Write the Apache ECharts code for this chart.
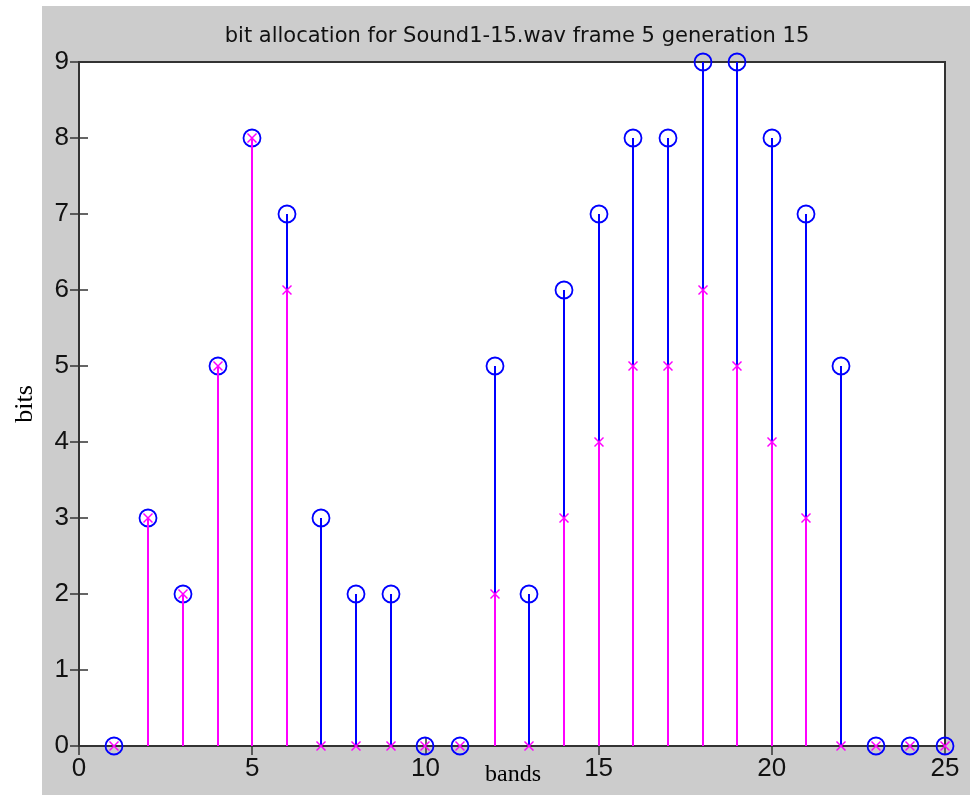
<!DOCTYPE html>
<html>
<head>
<meta charset="utf-8">
<script src="https://cdn.jsdelivr.net/npm/echarts@6/dist/echarts.min.js"></script>
<style>
  html, body { margin: 0; padding: 0; background: #fff; }
  #chart { width: 970px; height: 795px; }
</style>
</head>
<body>
<div id="chart"></div>
<script>
// Bit allocation per band: full allocation (blue, circles) and
// allocation after this generation (magenta, crosses).
const bands = [1, 2, 3, 4, 5, 6, 7, 8, 9, 10, 11, 12, 13, 14, 15, 16, 17, 18, 19, 20, 21, 22, 23, 24, 25];
const bitsFull = [0, 3, 2, 5, 8, 7, 3, 2, 2, 0, 0, 5, 2, 6, 7, 8, 8, 9, 9, 8, 7, 5, 0, 0, 0];
const bitsGen  = [0, 3, 2, 5, 8, 6, 0, 0, 0, 0, 0, 2, 0, 3, 4, 5, 5, 6, 5, 4, 3, 0, 0, 0, 0];
const xTicks = [0, 5, 10, 15, 20, 25];
const yTicks = [0, 1, 2, 3, 4, 5, 6, 7, 8, 9];

const titleText = 'bit allocation for Sound1-15.wav frame 5 generation 15';
const BLUE = '#0000ff';
const MAGENTA = '#ff00ff';

const chart = echarts.init(document.getElementById('chart'), null, { renderer: 'canvas' });

// Stems are snapped to whole pixels so overlapping stems cover each other cleanly.
function stemWithCircle(params, api) {
  const x = api.value(0), y = api.value(1);
  const base = api.coord([x, 0]);
  const top = api.coord([x, y]);
  const px = Math.round(top[0]);
  return {
    type: 'group',
    children: [
      { type: 'line', shape: { x1: px, y1: base[1], x2: px, y2: top[1] },
        style: { stroke: BLUE, lineWidth: 2 } },
      { type: 'circle', shape: { cx: px, cy: top[1], r: 8.5 },
        style: { fill: null, stroke: BLUE, lineWidth: 1.8 } }
    ]
  };
}

function stemWithCross(params, api) {
  const x = api.value(0), y = api.value(1);
  const base = api.coord([x, 0]);
  const top = api.coord([x, y]);
  const px = Math.round(top[0]);
  const h = 4.5;
  return {
    type: 'group',
    children: [
      { type: 'line', shape: { x1: px, y1: base[1], x2: px, y2: top[1] },
        style: { stroke: MAGENTA, lineWidth: 2 } },
      { type: 'line', shape: { x1: px - h, y1: top[1] - h, x2: px + h, y2: top[1] + h },
        style: { stroke: MAGENTA, lineWidth: 1.5 } },
      { type: 'line', shape: { x1: px - h, y1: top[1] + h, x2: px + h, y2: top[1] - h },
        style: { stroke: MAGENTA, lineWidth: 1.5 } }
    ]
  };
}

const tickFont = { color: '#111', fontSize: 26, fontFamily: '"Liberation Sans", Arial, sans-serif' };
const tickLine = { show: true, inside: true, length: 9, lineStyle: { color: '#333', width: 1.5 } };

chart.setOption({
  backgroundColor: '#ffffff',
  animation: false,
  graphic: [
    { type: 'rect', z: -10, silent: true,
      shape: { x: 42, y: 6, width: 928, height: 789 },
      style: { fill: '#cccccc' } },
    { type: 'text', silent: true, z: 10,
      x: 513, y: 775,
      style: { text: 'bands', fill: '#000', font: '24px "Liberation Serif", serif',
               textAlign: 'center', textVerticalAlign: 'middle' } },
    { type: 'text', silent: true, z: 10,
      x: 25, y: 404, rotation: Math.PI / 2,
      style: { text: 'bits', fill: '#000', font: '26px "Liberation Serif", serif',
               textAlign: 'center', textVerticalAlign: 'middle' } }
  ],
  title: {
    text: titleText,
    left: 512, top: 21, textAlign: 'center',
    textStyle: { fontSize: 21, fontWeight: 'normal', color: '#111',
                 fontFamily: 'DejaVu Sans, sans-serif' }
  },
  grid: {
    left: 79, top: 62, right: 25, bottom: 49,
    show: true, backgroundColor: '#ffffff', borderColor: '#333', borderWidth: 2
  },
  xAxis: [
    {
      type: 'value', min: 0, max: 25, interval: 5, position: 'bottom',
      axisLine: { show: false },
      axisTick: tickLine,
      axisLabel: Object.assign({ margin: 10, customValues: xTicks }, tickFont),
      splitLine: { show: false }
    },
    {
      type: 'value', min: 0, max: 25, interval: 5, position: 'top',
      axisLine: { show: false },
      axisTick: tickLine,
      axisLabel: { show: false },
      splitLine: { show: false }
    }
  ],
  yAxis: [
    {
      type: 'value', min: 0, max: 9, interval: 1, position: 'left',
      axisLine: { show: false },
      axisTick: tickLine,
      axisLabel: Object.assign({ margin: 10, customValues: yTicks }, tickFont),
      splitLine: { show: false }
    },
    {
      type: 'value', min: 0, max: 9, interval: 1, position: 'right',
      axisLine: { show: false },
      axisTick: tickLine,
      axisLabel: { show: false },
      splitLine: { show: false }
    }
  ],
  series: [
    {
      type: 'custom', name: 'full', xAxisIndex: 0, yAxisIndex: 0, z: 3,
      clip: false,
      data: bands.map((b, i) => [b, bitsFull[i]]),
      renderItem: stemWithCircle
    },
    {
      type: 'custom', name: 'generation', xAxisIndex: 0, yAxisIndex: 0, z: 4,
      clip: false,
      data: bands.map((b, i) => [b, bitsGen[i]]),
      renderItem: stemWithCross
    }
  ]
});
</script>
</body>
</html>
